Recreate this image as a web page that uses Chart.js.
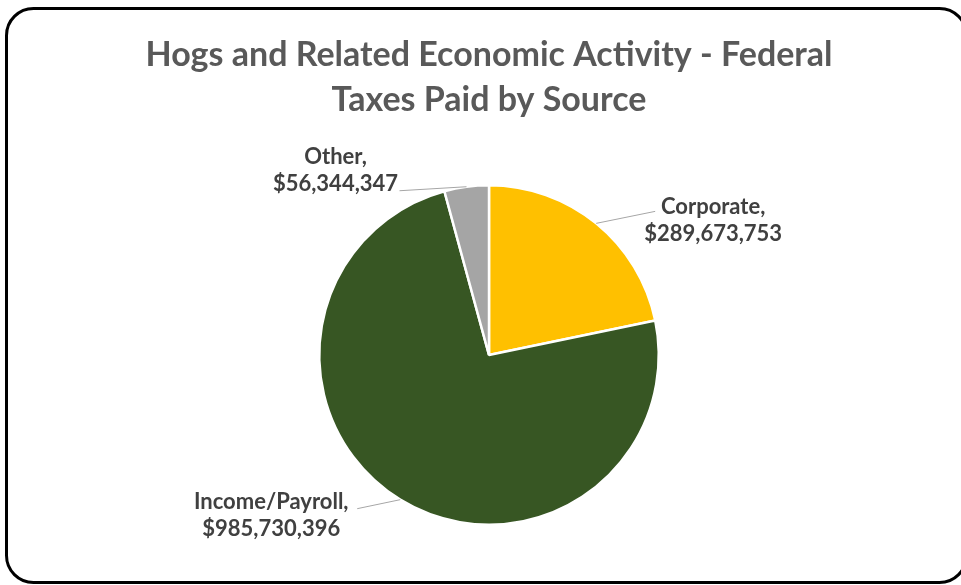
<!DOCTYPE html>
<html>
<head>
<meta charset="utf-8">
<script src="https://cdn.jsdelivr.net/npm/chart.js@4"></script>
<style>
  html, body { margin: 0; padding: 0; background: #ffffff; overflow: hidden; }
  canvas { display: block; }
</style>
</head>
<body>
<canvas id="chart" width="961" height="585"></canvas>
<script>
// Federal taxes paid by source
const categories = ['Corporate', 'Income/Payroll', 'Other'];
const taxesPaid = [289673753, 985730396, 56344347];
const sliceColors = ['#FFC000', '#375623', '#A5A5A5'];
const titleLines = ['Hogs and Related Economic Activity - Federal', 'Taxes Paid by Source'];

const fmtMoney = v => '$' + v.toLocaleString('en-US');

// Leader line elbow offsets (from the slice edge) and text placement relative to the elbow
const labelLayout = [
  { dx: 59, dy: -12, tx: 58, ty: -4 },    // Corporate
  { dx: -43, dy: 9, tx: -86, ty: -7 },    // Income/Payroll
  { dx: -67, dy: 4, tx: -64, ty: -34 }    // Other
];

// Rounded outline around the chart; its right side runs just past the canvas edge
const framePlugin = {
  id: 'frame',
  afterDraw(chart) {
    const ctx = chart.ctx;
    const x = 6.5, y = 8.5, w = 960, h = 574, r = 27;
    ctx.save();
    ctx.strokeStyle = '#000';
    ctx.lineWidth = 3;
    ctx.beginPath();
    ctx.roundRect(x, y, w, h, r);
    ctx.stroke();
    ctx.restore();
  }
};

// Two-line heading centred over the pie
const headingPlugin = {
  id: 'heading',
  afterDraw(chart) {
    const ctx = chart.ctx;
    const cx = (chart.chartArea.left + chart.chartArea.right) / 2;
    ctx.save();
    ctx.fillStyle = '#595959';
    ctx.font = 'bold 34px Lato';
    ctx.textAlign = 'center';
    ctx.textBaseline = 'middle';
    titleLines.forEach((t, i) => ctx.fillText(t, cx, 55 + i * 45));
    ctx.restore();
  }
};

const calloutPlugin = {
  id: 'callouts',
  afterDatasetsDraw(chart) {
    const ctx = chart.ctx;
    const meta = chart.getDatasetMeta(0);
    const ds = chart.data.datasets[0];
    ctx.save();
    meta.data.forEach((arc, i) => {
      const mid = (arc.startAngle + arc.endAngle) / 2;
      const r = arc.outerRadius;
      const sx = arc.x + Math.cos(mid) * r;
      const sy = arc.y + Math.sin(mid) * r;
      const L = labelLayout[i];
      const ex = sx + L.dx, ey = sy + L.dy;
      ctx.strokeStyle = '#A6A6A6';
      ctx.lineWidth = 1;
      ctx.beginPath();
      ctx.moveTo(sx, sy);
      ctx.lineTo(ex, ey);
      ctx.stroke();
      ctx.fillStyle = '#404040';
      ctx.font = 'bold 22px Lato';
      ctx.textAlign = 'center';
      ctx.textBaseline = 'middle';
      const cx = ex + L.tx, cy = ey + L.ty;
      ctx.fillText(chart.data.labels[i] + ',', cx, cy);
      ctx.fillText(fmtMoney(ds.data[i]), cx, cy + 27);
    });
    ctx.restore();
  }
};

new Chart(document.getElementById('chart'), {
  type: 'pie',
  data: {
    labels: categories,
    datasets: [{
      data: taxesPaid,
      backgroundColor: sliceColors,
      borderColor: '#ffffff',
      borderWidth: 2.5
    }]
  },
  options: {
    responsive: false,
    animation: false,
    events: [],
    layout: { padding: { top: 184, left: 318, right: 301, bottom: 59 } },
    plugins: {
      legend: { display: false },
      tooltip: { enabled: false },
      title: { display: false }
    }
  },
  plugins: [calloutPlugin, headingPlugin, framePlugin]
});
</script>
</body>
</html>
